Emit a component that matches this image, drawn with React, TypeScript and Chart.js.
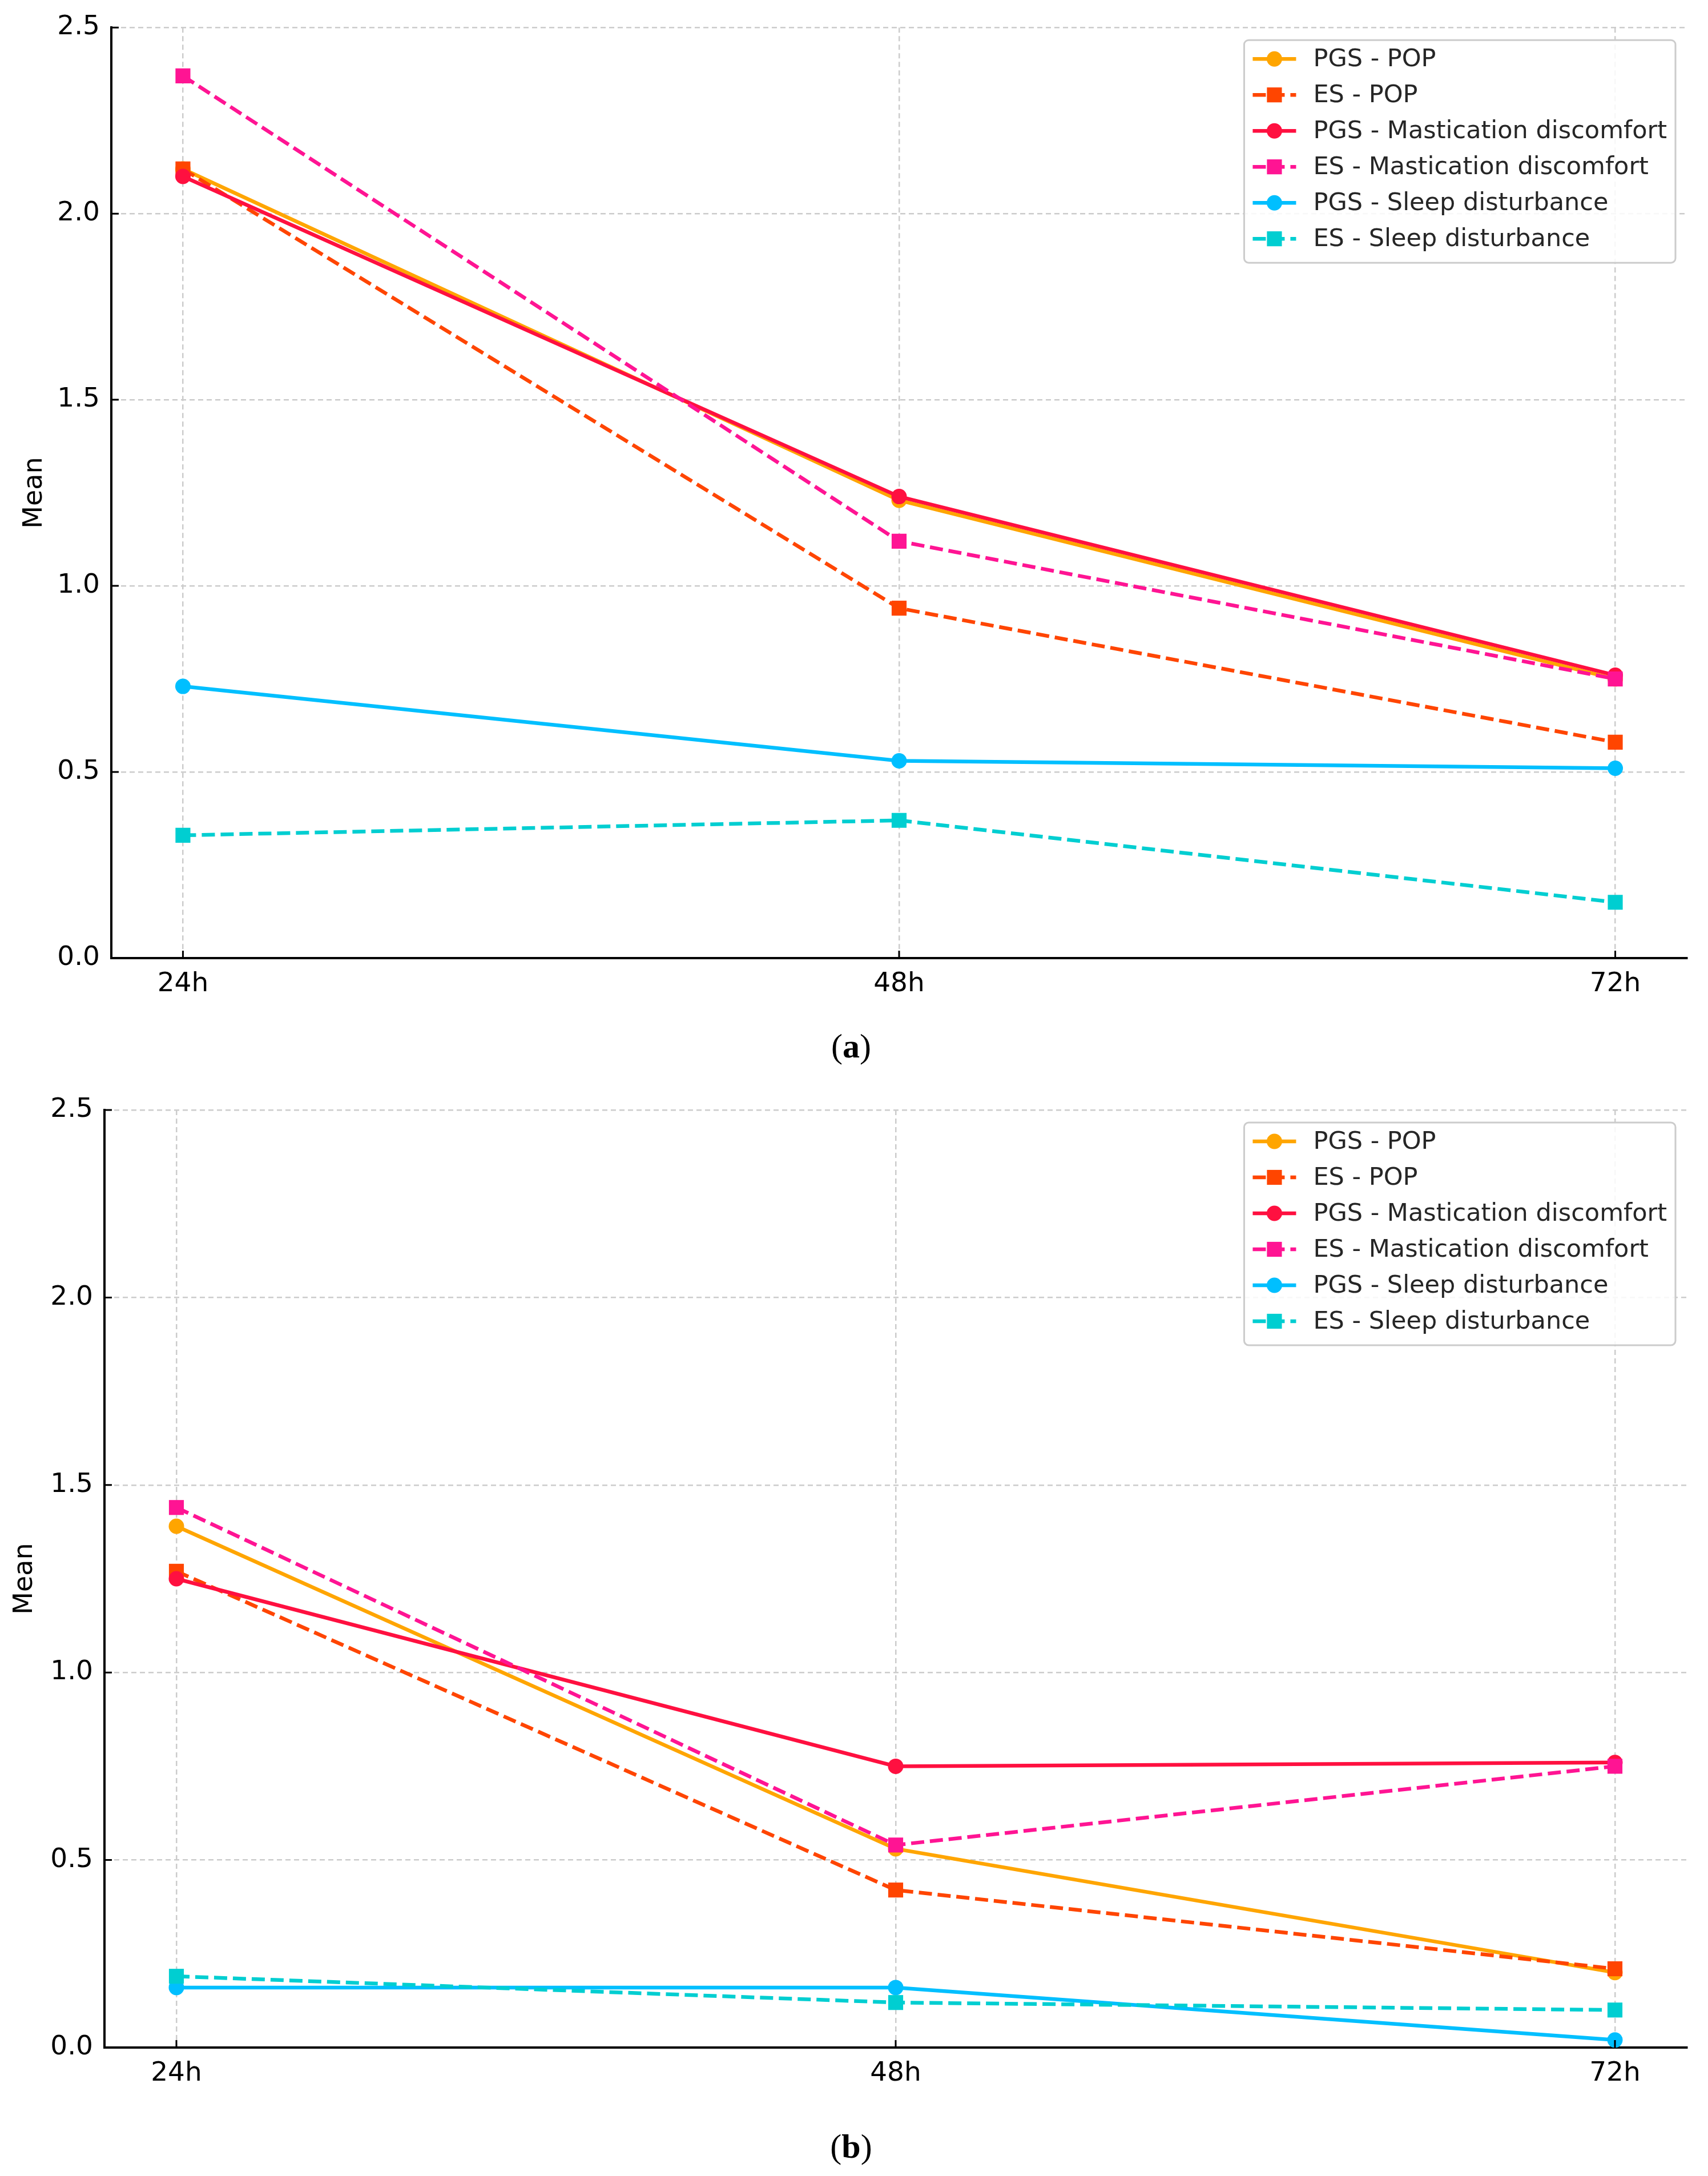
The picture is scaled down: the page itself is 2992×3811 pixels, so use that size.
import { useEffect, useRef } from "react";
import { Chart, registerables } from "chart.js";

Chart.register(...registerables);

// time points on the x axis
const timeLabels = ["24h", "48h", "72h"];
const yTicks = [0, 0.5, 1.0, 1.5, 2.0, 2.5];

const seriesNames = [
    "PGS - POP",
    "ES - POP",
    "PGS - Mastication discomfort",
    "ES - Mastication discomfort",
    "PGS - Sleep disturbance",
    "ES - Sleep disturbance",
];

// panel (a)
const aPgsPop = [2.12, 1.23, 0.75];
const aEsPop = [2.12, 0.94, 0.58];
const aPgsMast = [2.10, 1.24, 0.76];
const aEsMast = [2.37, 1.12, 0.75];
const aPgsSleep = [0.73, 0.53, 0.51];
const aEsSleep = [0.33, 0.37, 0.15];

// panel (b)
const bPgsPop = [1.39, 0.53, 0.20];
const bEsPop = [1.27, 0.42, 0.21];
const bPgsMast = [1.25, 0.75, 0.76];
const bEsMast = [1.44, 0.54, 0.75];
const bPgsSleep = [0.16, 0.16, 0.02];
const bEsSleep = [0.19, 0.12, 0.10];

const colors = ["#ffa500", "#ff4500", "#ff1040", "#ff1493", "#00bfff", "#00ced1"];
const dashed = [false, true, false, true, false, true];

const FONT = '"DejaVu Sans", sans-serif';
const LINE_W = 6.5;
const DASH = [23, 10];
const CIRCLE_R = 13.5;
const SQUARE_R = 18.5;

function drawMarker(ctx: CanvasRenderingContext2D, x: number, y: number, square: boolean, color: string) {
    ctx.fillStyle = color;
    ctx.beginPath();
    if (square) {
        const s = SQUARE_R * Math.SQRT1_2;
        ctx.rect(x - s, y - s, 2 * s, 2 * s);
    } else {
        ctx.arc(x, y, CIRCLE_R, 0, Math.PI * 2);
    }
    ctx.fill();
}

const boxLegend = {
    id: "boxLegend",
    afterDatasetsDraw(chart: any) {
        const { ctx, chartArea } = chart;
        const fontSize = 43;
        const pad = 15, handle = 76, gap = 30, rowH = 63;
        ctx.save();
        ctx.font = `${fontSize}px ${FONT}`;
        const labels: string[] = chart.data.datasets.map((d: any) => d.label);
        const textW = Math.max(...labels.map(l => ctx.measureText(l).width));
        const w = pad + handle + gap + textW + pad;
        const h = 390;
        const right = chartArea.right - 20;
        const top = chartArea.top + 22;
        const left = right - w;

        ctx.beginPath();
        ctx.roundRect(left, top, w, h, 8);
        ctx.fillStyle = "rgba(255,255,255,0.85)";
        ctx.fill();
        ctx.lineWidth = 3;
        ctx.strokeStyle = "#cccccc";
        ctx.stroke();

        labels.forEach((label, i) => {
            const cy = top + 33 + i * rowH;
            const color = colors[i];
            ctx.setLineDash(dashed[i] ? DASH : []);
            ctx.lineWidth = LINE_W;
            ctx.strokeStyle = color;
            ctx.beginPath();
            ctx.moveTo(left + pad, cy);
            ctx.lineTo(left + pad + handle, cy);
            ctx.stroke();
            ctx.setLineDash([]);
            drawMarker(ctx, left + pad + handle / 2, cy, dashed[i], color);
            ctx.fillStyle = "#262626";
            ctx.textBaseline = "middle";
            ctx.textAlign = "left";
            ctx.fillText(label, left + pad + handle + gap, cy + 2);
        });
        ctx.restore();
    },
};

// matplotlib style inward ticks
const innerTicks = {
    id: "innerTicks",
    afterDraw(chart: any) {
        const { ctx, chartArea, scales } = chart;
        const len = 13;
        ctx.save();
        ctx.strokeStyle = "#000";
        ctx.lineWidth = 3;
        ctx.beginPath();
        scales.x.ticks.forEach((t: any) => {
            const x = scales.x.getPixelForValue(t.value);
            ctx.moveTo(x, chartArea.bottom);
            ctx.lineTo(x, chartArea.bottom - len);
        });
        scales.y.ticks.forEach((t: any) => {
            const y = scales.y.getPixelForValue(t.value);
            ctx.moveTo(chartArea.left, y);
            ctx.lineTo(chartArea.left + len, y);
        });
        ctx.stroke();
        ctx.restore();
    },
};

type PanelProps = {
    series: number[][];
    top: number;
    height: number;
    padTop: number;
    yAxisWidth: number;
    xAxisHeight: number;
    titlePad: number;
};

function MeanPanel({ series, top, height, padTop, yAxisWidth, xAxisHeight, titlePad }: PanelProps) {
    const canvasRef = useRef<HTMLCanvasElement | null>(null);
    const chartInstance = useRef<Chart | null>(null);

    useEffect(() => {
        if (!canvasRef.current) return;
        const ctx = canvasRef.current.getContext("2d");
        if (!ctx) return;

        const datasets = series.map((values, idx) => ({
            label: seriesNames[idx],
            data: values.map((v, i) => ({ x: i, y: v })),
            borderColor: colors[idx],
            backgroundColor: colors[idx],
            pointBackgroundColor: colors[idx],
            pointBorderColor: colors[idx],
            pointBorderWidth: 0,
            borderWidth: LINE_W,
            borderDash: dashed[idx] ? DASH : [],
            pointStyle: dashed[idx] ? "rect" : "circle",
            pointRadius: dashed[idx] ? SQUARE_R : CIRCLE_R,
            tension: 0,
            fill: false,
            order: series.length - idx,
        }));

        chartInstance.current = new Chart(ctx, {
            type: "line",
            data: { datasets } as any,
            options: {
                animation: false,
                responsive: false,
                devicePixelRatio: 1,
                layout: { padding: { top: padTop, right: 37, left: 0, bottom: 0 } },
                plugins: {
                    legend: { display: false },
                    tooltip: { enabled: false },
                },
                scales: {
                    x: {
                        type: "linear",
                        min: -0.1,
                        max: 2.1,
                        afterBuildTicks: (axis: any) => {
                            axis.ticks = timeLabels.map((_, i) => ({ value: i }));
                        },
                        afterFit: (axis: any) => {
                            axis.height = xAxisHeight;
                        },
                        ticks: {
                            callback: (v: any) => timeLabels[Math.round(Number(v))] ?? "",
                            font: { family: FONT, size: 47 },
                            color: "#000",
                            padding: 18,
                            maxRotation: 0,
                        },
                        grid: { color: "#cccccc", lineWidth: 2.5, drawTicks: false },
                        border: { display: true, color: "#000", width: 4, dash: [9, 6] },
                    },
                    y: {
                        min: 0,
                        max: 2.5,
                        afterBuildTicks: (axis: any) => {
                            axis.ticks = yTicks.map(v => ({ value: v }));
                        },
                        afterFit: (axis: any) => {
                            axis.width = yAxisWidth;
                        },
                        ticks: {
                            callback: (v: any) => Number(v).toFixed(1),
                            font: { family: FONT, size: 47 },
                            color: "#000",
                            padding: 20,
                        },
                        title: {
                            display: true,
                            text: "Mean",
                            font: { family: FONT, size: 46 },
                            color: "#000",
                            padding: { top: titlePad, bottom: 0 },
                        },
                        grid: { color: "#cccccc", lineWidth: 2.5, drawTicks: false },
                        border: { display: true, color: "#000", width: 4, dash: [9, 6] },
                    },
                },
            } as any,
            plugins: [boxLegend, innerTicks],
        });

        return () => {
            if (chartInstance.current) {
                chartInstance.current.destroy();
                chartInstance.current = null;
            }
        };
    }, [series, padTop, yAxisWidth, xAxisHeight, titlePad]);

    return (
        <canvas
            ref={canvasRef}
            width={2992}
            height={height}
            style={{ position: "absolute", left: 0, top, width: 2992, height }}
        />
    );
}

const panelA = [aPgsPop, aEsPop, aPgsMast, aEsMast, aPgsSleep, aEsSleep];
const panelB = [bPgsPop, bEsPop, bPgsMast, bEsMast, bPgsSleep, bEsSleep];

function Caption({ letter, y }: { letter: string; y: number }) {
    return (
        <div
            style={{
                position: "absolute",
                left: 0,
                width: 2982,
                top: y - 40,
                height: 80,
                lineHeight: "80px",
                textAlign: "center",
                fontFamily: '"Liberation Serif", serif',
                fontSize: 60,
                fontWeight: "normal",
                color: "#000",
            }}
        >
            (<span style={{ fontWeight: "bold" }}>{letter}</span>)
        </div>
    );
}

export default function App() {
    return (
        <div style={{ position: "absolute", left: 0, top: 0, width: 2992, height: 3811, background: "#fff" }}>
            <MeanPanel series={panelA} top={0} height={1780} padTop={44} yAxisWidth={195} xAxisHeight={102} titlePad={33} />
            <Caption letter="a" y={1832} />
            <MeanPanel series={panelB} top={1880} height={1810} padTop={64} yAxisWidth={183} xAxisHeight={104} titlePad={16} />
            <Caption letter="b" y={3759} />
        </div>
    );
}
